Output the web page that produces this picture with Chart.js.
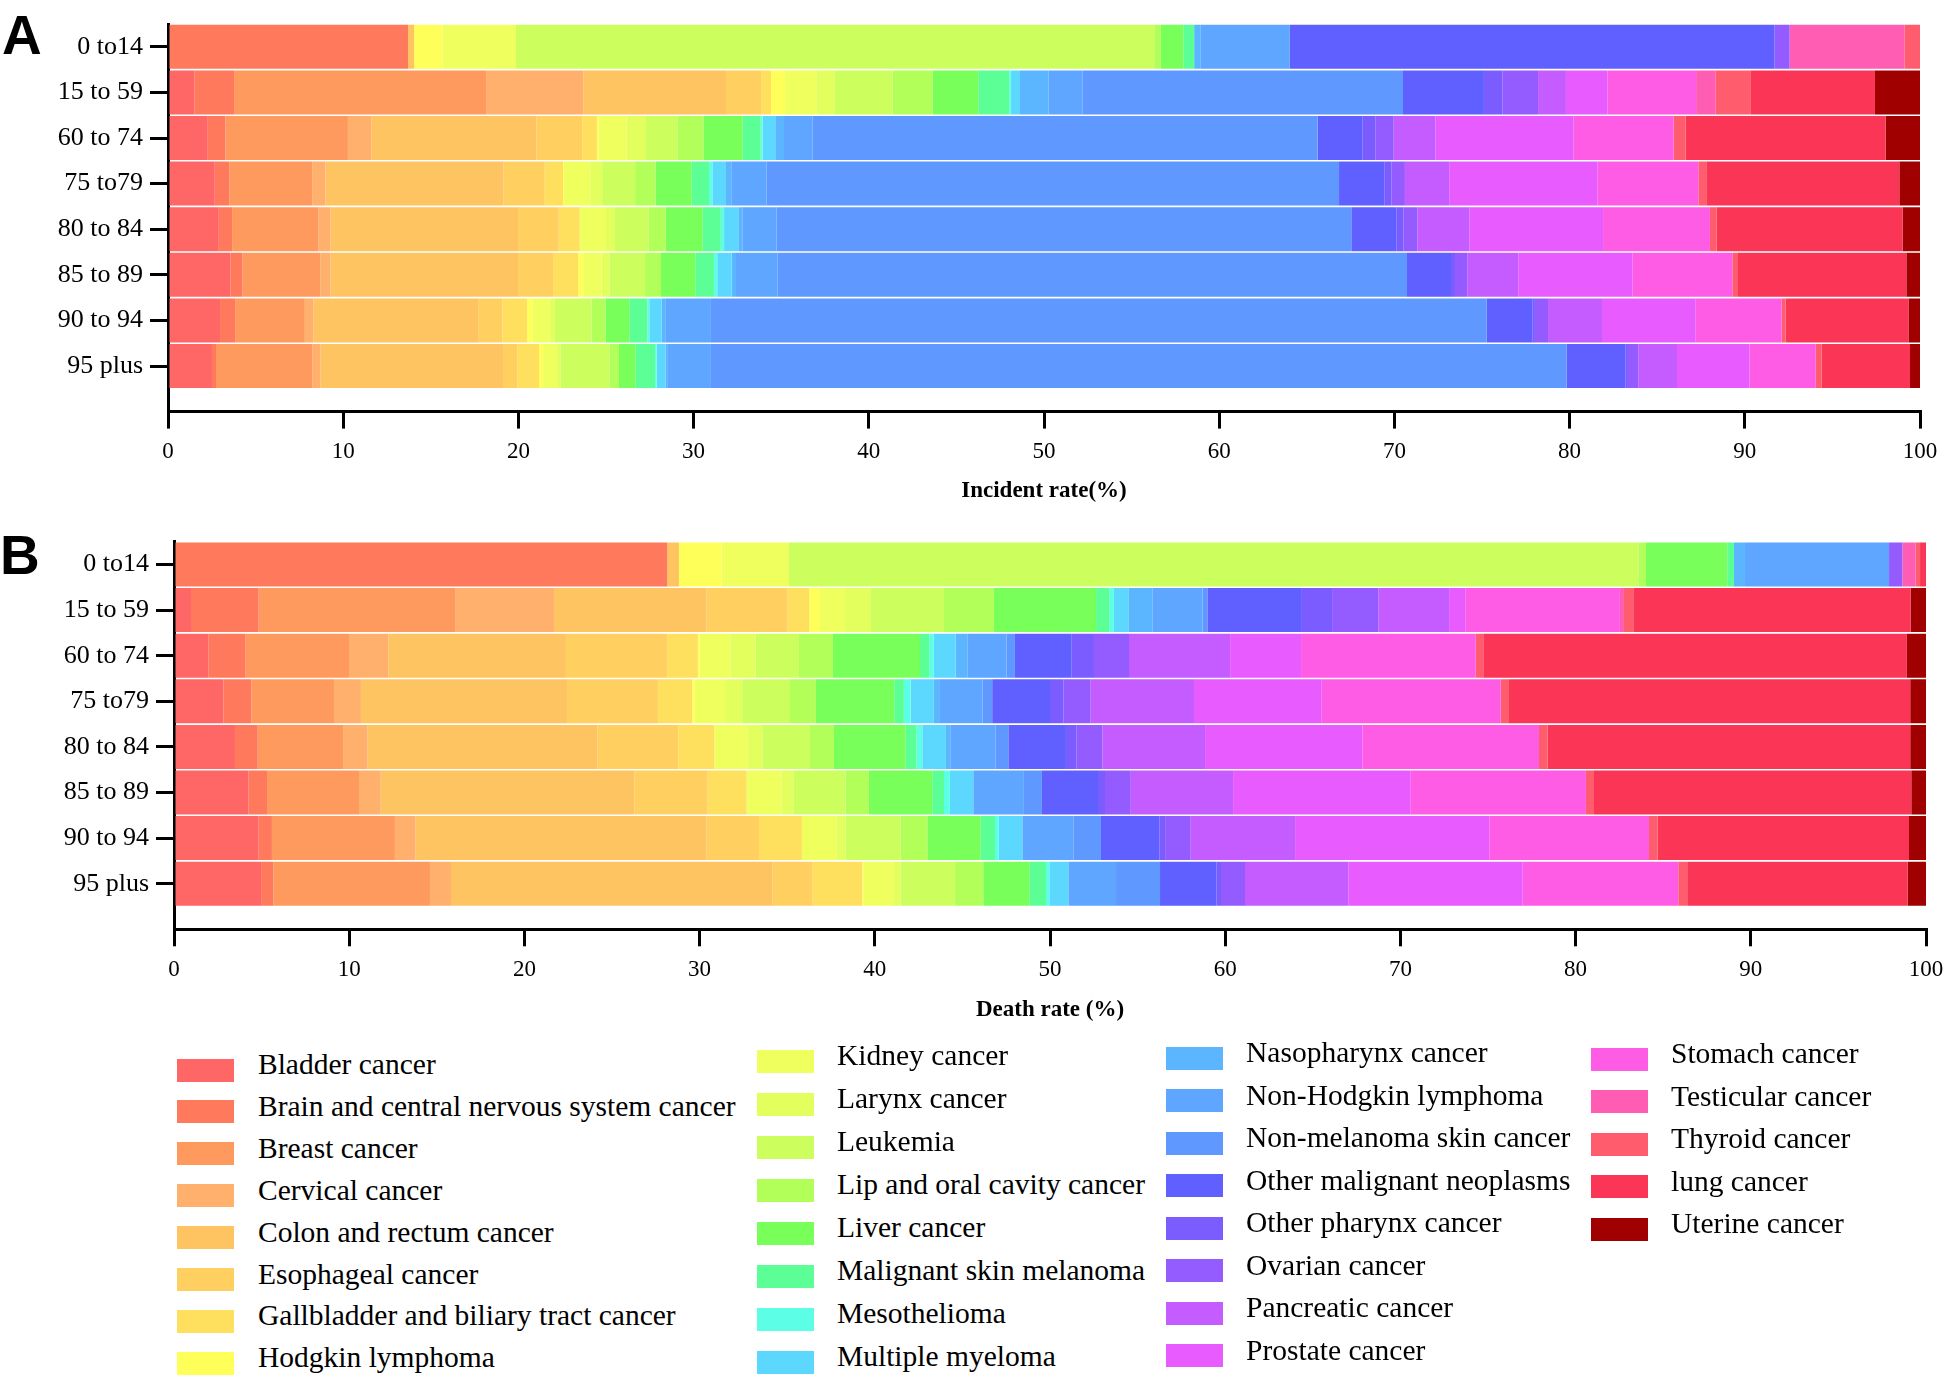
<!DOCTYPE html>
<html>
<head>
<meta charset="utf-8">
<script src="https://cdn.jsdelivr.net/npm/chart.js@4.4.1/dist/chart.umd.min.js"></script>
<style>
html,body{margin:0;padding:0;background:#fff;width:1944px;height:1377px;overflow:hidden;font-family:"Liberation Serif","Times New Roman",serif;}
canvas{position:absolute;left:0;}
#cA{top:0;}
#cB{top:520px;}
.panel{position:absolute;font-family:"Liberation Sans",Arial,sans-serif;font-weight:bold;font-size:55px;line-height:1;color:#000;}
.sw{position:absolute;width:57px;height:23px;}
.lt{position:absolute;font-size:29.5px;line-height:1;color:#000;white-space:nowrap;}
</style>
</head>
<body>
<div class="panel" style="left:2px;top:8px;">A</div>
<div class="panel" style="left:0px;top:528px;">B</div>
<canvas id="cA" width="1944" height="520"></canvas>
<canvas id="cB" width="1944" height="520"></canvas>
<div id="legend"></div>
<script>
// ---------- DATA ----------
const ageGroups = ["0 to14", "15 to 59", "60 to 74", "75 to79", "80 to 84", "85 to 89", "90 to 94", "95 plus"];

const cancerTypes = [
  "Bladder cancer", "Brain and central nervous system cancer", "Breast cancer", "Cervical cancer",
  "Colon and rectum cancer", "Esophageal cancer", "Gallbladder and biliary tract cancer", "Hodgkin lymphoma",
  "Kidney cancer", "Larynx cancer", "Leukemia", "Lip and oral cavity cancer",
  "Liver cancer", "Malignant skin melanoma", "Mesothelioma", "Multiple myeloma",
  "Nasopharynx cancer", "Non-Hodgkin lymphoma", "Non-melanoma skin cancer", "Other malignant neoplasms",
  "Other pharynx cancer", "Ovarian cancer", "Pancreatic cancer", "Prostate cancer",
  "Stomach cancer", "Testicular cancer", "Thyroid cancer", "lung cancer", "Uterine cancer"
];

const cancerColors = [
  "#FF6666", "#FF7A5C", "#FF9A5E", "#FFB06C",
  "#FFC462", "#FFD060", "#FFDF5E", "#FFFF5A",
  "#EFFF5E", "#E2FF5E", "#CCFF5E", "#B2FF5A",
  "#78FF5A", "#5CFF96", "#5CFFE6", "#5CD8FF",
  "#5CB6FF", "#5EA6FF", "#5F98FF", "#5F60FF",
  "#7A5CFF", "#945CFF", "#C45CFF", "#E85CFF",
  "#FF5CE6", "#FF5CB4", "#FF5C6E", "#FA3556", "#A00000"
];

// Incidence share (%) per age group, in cancerTypes order
const incidence_0to14  = [0, 13.7, 0, 0, 0.35, 0, 0, 1.62, 4.19, 0, 36.43, 0.38, 1.29, 0.61, 0, 0, 0.38, 5.08, 0, 27.67, 0, 0.86, 0, 0, 0, 6.55, 0.89, 0, 0];
const incidence_15to59 = [1.5, 2.27, 14.42, 5.51, 8.15, 2.0, 0.57, 0.8, 1.78, 1.03, 3.33, 2.29, 2.6, 1.77, 0.1, 0.51, 1.62, 1.96, 18.28, 4.62, 1.05, 2.04, 1.59, 2.38, 5.05, 1.12, 2.01, 7.08, 2.57];
const incidence_60to74 = [2.27, 1.01, 6.99, 1.33, 9.43, 2.61, 0.84, 0.1, 1.6, 1.1, 1.79, 1.49, 2.24, 1.03, 0.11, 0.72, 0.5, 1.64, 28.82, 2.57, 0.74, 1.03, 2.39, 7.88, 5.71, 0, 0.68, 11.42, 1.96];
const incidence_75to79 = [2.67, 0.83, 4.73, 0.76, 10.17, 2.34, 1.05, 0.05, 1.5, 0.68, 1.88, 1.17, 2.06, 0.99, 0.19, 0.78, 0.3, 2.02, 32.67, 2.58, 0.42, 0.76, 2.53, 8.47, 5.75, 0, 0.45, 11.02, 1.18];
const incidence_80to84 = [2.9, 0.76, 4.93, 0.69, 10.7, 2.32, 1.2, 0, 1.5, 0.51, 1.91, 0.99, 2.11, 1.03, 0.19, 0.81, 0.23, 1.96, 32.8, 2.59, 0.38, 0.8, 2.97, 7.63, 6.1, 0, 0.38, 10.62, 0.99];
const incidence_85to89 = [3.56, 0.69, 4.44, 0.59, 10.7, 2.0, 1.43, 0.29, 1.05, 0.44, 2.04, 0.91, 1.96, 1.06, 0.19, 0.82, 0.25, 2.38, 35.92, 2.51, 0.23, 0.7, 2.91, 6.51, 5.71, 0, 0.32, 9.61, 0.78];
const incidence_90to94 = [2.97, 0.86, 3.98, 0.49, 9.4, 1.39, 1.41, 0.3, 0.99, 0.29, 2.09, 0.8, 1.36, 1.03, 0.11, 0.71, 0.2, 2.61, 44.28, 2.6, 0.15, 0.75, 3.08, 5.35, 4.9, 0, 0.23, 7.01, 0.66];
const incidence_95plus = [2.51, 0.23, 5.51, 0.45, 10.42, 0.82, 1.24, 0.23, 0.8, 0.2, 2.78, 0.55, 0.95, 1.11, 0.09, 0.5, 0.1, 2.5, 48.84, 3.37, 0.13, 0.59, 2.21, 4.13, 3.79, 0, 0.34, 5.04, 0.57];

// Death share (%) per age group, in cancerTypes order
const death_0to14  = [0, 28.15, 0, 0, 0.67, 0, 0, 2.44, 3.84, 0, 48.48, 0.44, 4.64, 0.38, 0, 0, 0.63, 8.22, 0, 0, 0, 0.76, 0, 0, 0, 0.76, 0.25, 0.34, 0];
const death_15to59 = [0.97, 3.86, 11.25, 5.61, 8.71, 4.62, 1.24, 0.61, 1.43, 1.48, 4.17, 2.85, 5.83, 0.76, 0.26, 0.82, 1.37, 2.86, 0.28, 5.35, 1.77, 2.64, 4.04, 0.95, 8.8, 0.23, 0.53, 15.83, 0.88];
const death_60to74 = [1.96, 2.13, 5.9, 2.24, 10.14, 5.78, 1.75, 0.1, 1.75, 1.45, 2.47, 1.94, 4.97, 0.53, 0.26, 1.24, 0.67, 2.24, 0.48, 3.24, 1.27, 2.0, 5.77, 4.05, 9.97, 0, 0.43, 24.18, 1.09];
const death_75to79 = [2.82, 1.59, 4.72, 1.54, 11.76, 5.19, 1.96, 0.15, 1.72, 0.98, 2.73, 1.48, 4.47, 0.55, 0.38, 1.33, 0.35, 2.43, 0.55, 3.3, 0.76, 1.56, 5.9, 7.29, 10.21, 0, 0.48, 22.9, 0.9];
const death_80to84 = [3.48, 1.3, 4.87, 1.4, 13.13, 4.6, 2.06, 0, 1.88, 0.86, 2.72, 1.37, 4.09, 0.62, 0.33, 1.35, 0.28, 2.56, 0.72, 3.29, 0.61, 1.47, 5.86, 8.98, 10.08, 0, 0.49, 20.7, 0.9];
const death_85to89 = [4.24, 1.07, 5.25, 1.24, 14.47, 4.19, 2.22, 0, 2.0, 0.67, 2.98, 1.33, 3.62, 0.67, 0.34, 1.33, 0, 2.89, 1.03, 3.2, 0.4, 1.47, 5.84, 10.14, 10.0, 0, 0.46, 18.11, 0.84];
const death_90to94 = [4.81, 0.78, 7.02, 1.18, 16.61, 2.99, 2.45, 0, 1.98, 0.51, 3.14, 1.53, 3.04, 0.82, 0.22, 1.34, 0, 2.91, 1.58, 3.33, 0.33, 1.46, 5.96, 11.08, 9.12, 0, 0.49, 14.35, 0.97];
const death_95plus = [4.97, 0.7, 8.94, 1.2, 18.36, 2.28, 2.83, 0.06, 1.75, 0.38, 3.1, 1.62, 2.63, 0.95, 0.19, 1.09, 0, 2.72, 2.51, 3.23, 0.25, 1.37, 5.9, 9.95, 8.88, 0, 0.51, 12.58, 1.05];

const xTicks = [0, 10, 20, 30, 40, 50, 60, 70, 80, 90, 100];

const incidenceRows = [incidence_0to14, incidence_15to59, incidence_60to74, incidence_75to79, incidence_80to84, incidence_85to89, incidence_90to94, incidence_95plus];
const deathRows = [death_0to14, death_15to59, death_60to74, death_75to79, death_80to84, death_85to89, death_90to94, death_95plus];

// ---------- CHARTS ----------
const SERIF = "'Liberation Serif', 'Times New Roman', serif";

function makeChart(id, rows, cfg) {
  const datasets = cancerTypes.map((name, k) => ({
    label: name,
    data: rows.map((row, i) => ({ x: row[k], y: i })),
    backgroundColor: cancerColors[k],
    borderWidth: 0,
    barPercentage: 0.965,
    categoryPercentage: 1.0
  }));
  return new Chart(document.getElementById(id), {
    type: 'bar',
    data: { datasets },
    options: {
      indexAxis: 'y',
      responsive: false,
      animation: false,
      devicePixelRatio: 1,
      layout: { padding: { top: cfg.padTop, right: cfg.padRight, left: 0, bottom: 0 } },
      plugins: { legend: { display: false }, tooltip: { enabled: false } },
      scales: {
        x: {
          type: 'linear', stacked: true, min: 0, max: 100, position: 'bottom', offset: false,
          afterBuildTicks: (s) => { s.ticks = xTicks.map(v => ({ value: v })); },
          ticks: { color: '#000', font: { family: SERIF, size: 23 }, padding: cfg.xTickPad, maxRotation: 0, autoSkip: false },
          grid: { display: true, offset: false, drawOnChartArea: false, drawTicks: true, tickLength: 17, lineWidth: 3, color: '#000' },
          border: { display: true, width: 3, color: '#000' },
          title: { display: true, text: cfg.title, color: '#000', font: { family: SERIF, size: 23, weight: 'bold' }, padding: { top: 0, bottom: cfg.titlePadBottom } },
          afterFit: (s) => { s.height = cfg.xAxisHeight; s.paddingLeft = 0; s.paddingRight = 0; }
        },
        y: {
          type: 'linear', stacked: true, reverse: true, min: -0.5, max: 8, offset: false,
          afterBuildTicks: (s) => { s.ticks = ageGroups.map((_, i) => ({ value: i })); },
          ticks: { callback: (v) => ageGroups[v], color: '#000', font: { family: SERIF, size: 26 }, padding: 7, autoSkip: false },
          grid: { display: true, offset: false, drawOnChartArea: false, drawTicks: true, tickLength: 18, lineWidth: 3, color: '#000' },
          border: { display: true, width: 3, color: '#000' },
          afterFit: (s) => { s.width = cfg.yAxisWidth; s.paddingTop = 0; s.paddingBottom = 0; }
        }
      }
    }
  });
}

makeChart('cA', incidenceRows, { title: 'Incident rate(%)', padTop: 24, padRight: 24, yAxisWidth: 168, xAxisHeight: 108.4, titlePadBottom: 15, xTickPad: 10 });
makeChart('cB', deathRows, { title: 'Death rate (%)', padTop: 21.7, padRight: 18, yAxisWidth: 174, xAxisHeight: 110.7, titlePadBottom: 16, xTickPad: 10 });

// ---------- LEGEND (HTML) ----------
const legendCols = [
  { from: 0, to: 8, swX: 177, txtX: 258, c0: 1070, step: 41.9 },
  { from: 8, to: 16, swX: 757, txtX: 837, c0: 1061, step: 43 },
  { from: 16, to: 24, swX: 1166, txtX: 1246, c0: 1058, step: 42.5 },
  { from: 24, to: 29, swX: 1591, txtX: 1671, c0: 1059, step: 42.6 }
];
const leg = document.getElementById('legend');
legendCols.forEach(col => {
  for (let k = col.from; k < col.to; k++) {
    const c = col.c0 + (k - col.from) * col.step;
    const sw = document.createElement('div');
    sw.className = 'sw';
    sw.style.left = col.swX + 'px';
    sw.style.top = (c - 11.5) + 'px';
    sw.style.background = cancerColors[k];
    leg.appendChild(sw);
    const t = document.createElement('div');
    t.className = 'lt';
    t.style.left = col.txtX + 'px';
    t.style.top = (c - 20) + 'px';
    t.textContent = cancerTypes[k];
    leg.appendChild(t);
  }
});
</script>
</body>
</html>
